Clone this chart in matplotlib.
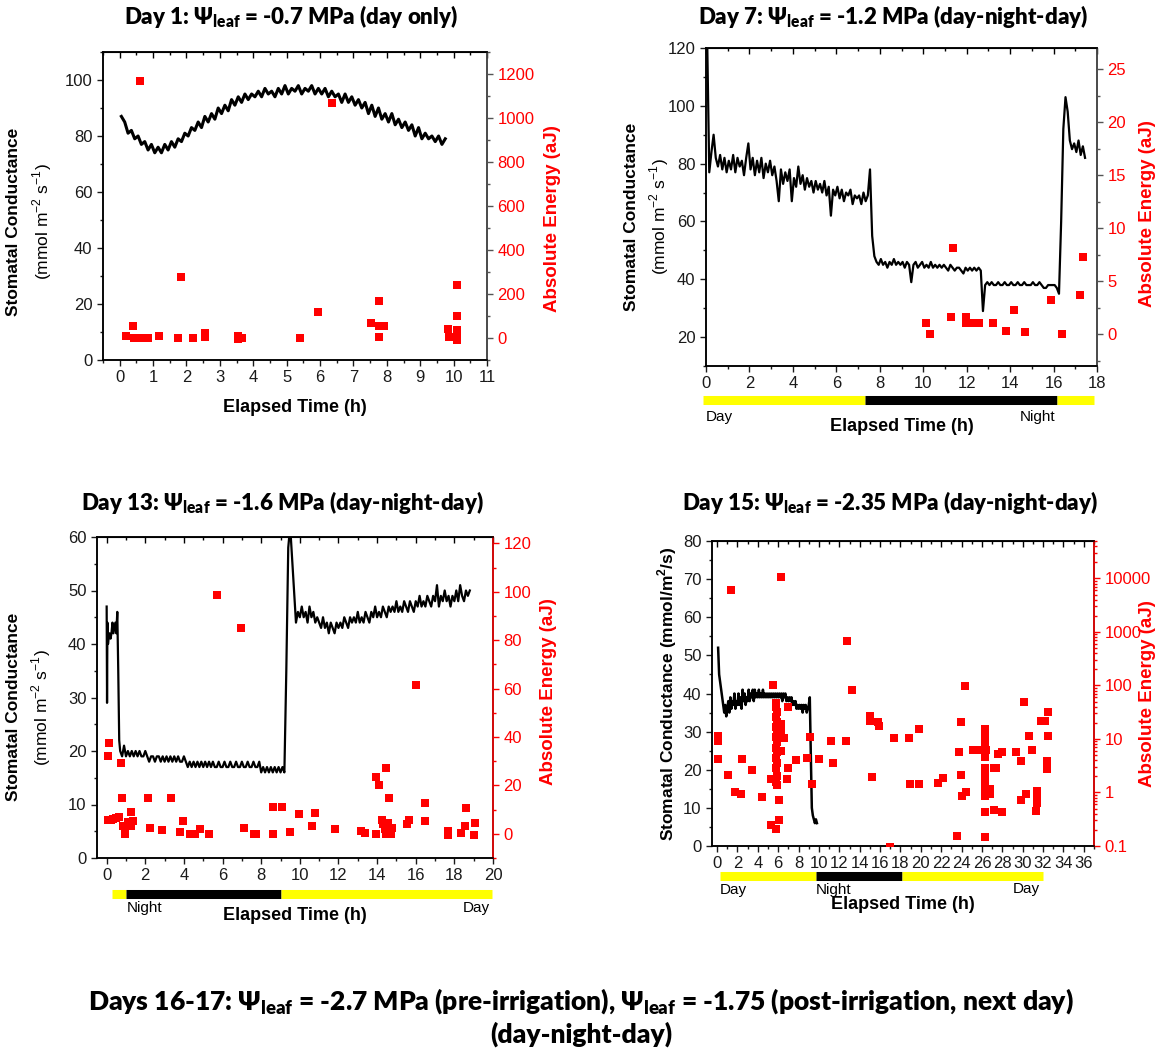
import numpy as np
import matplotlib
matplotlib.use('Agg')
import matplotlib.pyplot as plt
from matplotlib.ticker import MultipleLocator, LogLocator, NullFormatter

plt.rcParams['font.family'] = ['Liberation Sans', 'DejaVu Sans']
TITLE_FONT = ['Lato', 'DejaVu Sans']

# ---- Day 1 : stomatal conductance (one sample every 0.1 h from 0.05 h) ----
d1_gs = [87, 85, 81, 82, 79, 80, 77, 78, 75, 77,
         74, 76, 74, 77, 75, 78, 76, 79, 78, 81,
         80, 83, 82, 85, 83, 87, 85, 88, 86, 90,
         88, 91, 89, 93, 91, 94, 92, 95, 93, 95,
         94, 96, 94, 97, 95, 96, 94, 97, 95, 98,
         95, 97, 96, 98, 95, 97, 96, 98, 95, 97,
         95, 97, 94, 96, 94, 95, 92, 95, 92, 94,
         91, 93, 90, 92, 88, 91, 87, 90, 86, 88,
         85, 88, 84, 86, 83, 85, 82, 84, 80, 83,
         79, 81, 79, 80, 78, 80, 77, 79]
d1_span = (0.05, 9.75)
# acoustic emission events (time h, absolute energy aJ)
d1_ae = [(0.18, 9), (0.40, 55), (0.43, 0), (0.65, 0), (0.86, 0), (0.60, 1170),
         (1.18, 10), (1.76, 0), (1.84, 278), (2.21, 0), (2.54, 24), (2.55, 5),
         (3.53, 10), (3.53, -3), (3.65, 0), (5.40, 2), (5.95, 120), (6.35, 1070),
         (7.52, 70), (7.78, 170), (7.76, 55), (7.91, 55), (7.78, 5), (9.84, 40),
         (9.85, 5), (10.11, 240), (10.11, 102), (10.11, 37), (10.11, 15),
         (10.11, 0), (10.11, -8)]

# ---- Day 7 (one sample every 0.1 h from 0.05 h) ----
d7_gs = [125, 77, 84, 90, 82, 79, 83, 78, 82, 77,
         81, 78, 83, 77, 82, 79, 81, 76, 82, 87,
         78, 82, 76, 81, 77, 82, 75, 80, 77, 81,
         76, 79, 74, 67, 78, 73, 77, 74, 78, 67,
         75, 72, 79, 73, 76, 71, 75, 72, 74, 70,
         74, 71, 73, 70, 74, 69, 72, 62, 71, 69,
         72, 68, 71, 67, 70, 69, 71, 66, 69, 68,
         69, 66, 70, 67, 69, 78, 55, 48, 46, 45,
         47, 45, 46, 44, 46, 45, 47, 45, 46, 45,
         46, 44, 46, 45, 39, 45, 46, 44, 45, 46,
         44, 45, 44, 46, 44, 45, 44, 45, 44, 45,
         44, 43, 45, 44, 43, 44, 44, 43, 42, 44,
         43, 44, 43, 44, 43, 44, 43, 29, 38, 39,
         38, 39, 38, 38, 39, 38, 38, 39, 38, 38,
         39, 38, 38, 39, 38, 38, 39, 38, 38, 38,
         39, 38, 38, 39, 38, 37, 37, 38, 38, 38,
         38, 37, 35, 60, 92, 103, 98, 88, 85, 87,
         84, 88, 83, 86, 82]
d7_span = (0.05, 17.45)
d7_ae = [(10.14, 1.1), (10.30, 0.0), (11.36, 8.1), (11.29, 1.6), (11.95, 1.6),
         (11.95, 1.1), (12.20, 1.1), (12.56, 1.1), (13.22, 1.1), (13.81, 0.3),
         (14.17, 2.3), (14.67, 0.2), (15.90, 3.2), (16.40, 0.0), (17.24, 3.7),
         (17.34, 7.3)]
d7_light = [(-0.15, 7.3, 'day'), (7.3, 16.15, 'night'), (16.15, 17.85, 'day')]

# ---- Day 13 ----
d13_head_t = [0.0, 0.02, 0.04, 0.07, 0.1, 0.15, 0.2, 0.25, 0.3, 0.35, 0.4,
              0.45, 0.5, 0.55, 0.6, 0.65]
d13_head = [47, 29, 44, 40, 41, 42, 41, 42, 44, 42, 43, 44, 42, 46, 35, 22]
# then every 0.1 h from 0.7 h
d13_gs = [20, 19, 21, 19, 20, 19, 20, 19, 20, 19,
          20, 19, 19, 20, 19, 18, 19, 19, 18, 19,
          19, 18, 19, 18, 19, 18, 19, 18, 19, 18,
          19, 18, 18, 19, 18, 17, 18, 17, 18, 17,
          18, 17, 18, 17, 18, 17, 18, 17, 18, 17,
          17, 18, 17, 17, 18, 17, 17, 18, 17, 17,
          18, 17, 17, 18, 17, 17, 18, 17, 17, 18,
          17, 17, 18, 16, 17, 16, 17, 16, 17, 16,
          17, 16, 17, 16, 17, 16, 35, 58, 62, 56,
          50, 44, 46, 45, 47, 45, 46, 44, 47, 45,
          46, 44, 45, 44, 43, 45, 43, 44, 42, 44,
          43, 42, 44, 43, 44, 43, 45, 44, 43, 45,
          44, 45, 44, 46, 44, 45, 44, 46, 45, 44,
          46, 45, 47, 45, 46, 45, 47, 46, 45, 47,
          46, 47, 46, 48, 46, 47, 46, 48, 47, 46,
          48, 47, 46, 48, 47, 49, 47, 48, 47, 49,
          48, 47, 49, 48, 51, 47, 49, 48, 50, 48,
          49, 47, 49, 48, 50, 48, 51, 49, 48, 50,
          49, 50]
d13_span = (0.7, 18.8)
d13_ae = [(0.06, 32.1), (0.11, 37.7), (0.06, 5.5), (0.20, 5.9), (0.34, 6.3),
          (0.50, 6.6), (0.63, 6.9), (0.73, 29.1), (0.80, 14.9), (0.86, 3.4),
          (0.94, 0.1), (1.10, 4.8), (1.24, 9.2), (1.24, 3.4), (1.34, 5.2),
          (2.12, 14.9), (2.25, 2.5), (2.86, 1.5), (3.34, 14.9), (3.82, 0.7),
          (3.93, 5.2), (4.29, 0.1), (4.58, -0.1), (4.83, 1.8), (5.30, 0.1),
          (5.69, 98.5), (6.97, 85.1), (7.12, 2.5), (7.65, -0.1), (7.75, -0.1),
          (8.59, 0.1), (8.59, 11.2), (9.08, 11.2), (9.50, 0.7), (9.98, 8.0),
          (10.61, 3.4), (10.80, 8.7), (11.83, 1.8), (13.19, 1.1), (13.38, 0.4),
          (13.95, 23.4), (13.95, -0.1), (14.12, 20.3), (14.27, 5.5), (14.33, 3.9),
          (14.40, 1.8), (14.47, 27.3), (14.47, 0.1), (14.56, 4.3), (14.60, 14.6),
          (14.71, 0.1), (14.75, 2.5), (15.55, 3.9), (15.67, 5.5), (16.01, 61.5),
          (16.49, 12.6), (16.49, 5.1), (17.67, 1.1), (17.67, -0.3), (18.34, 0.4),
          (18.57, 3.4), (18.59, 10.6), (19.00, -0.3), (19.06, 4.4)]
d13_light = [(0.3, 1.0, 'day'), (1.0, 9.02, 'night'), (9.02, 19.96, 'day')]

# ---- Day 15 (one sample every 0.1 h from 0.1 h) ----
d15_gs = [52, 45, 43, 41, 39, 37, 35, 37, 34, 36,
          38, 35, 39, 36, 38, 37, 40, 36, 38, 37,
          40, 37, 39, 36, 41, 38, 40, 37, 39, 38,
          41, 38, 40, 39, 41, 38, 41, 39, 40, 39,
          41, 39, 40, 39, 41, 39, 40, 39, 40, 39,
          40, 39, 40, 39, 40, 39, 40, 39, 40, 39,
          40, 39, 40, 38, 40, 39, 40, 38, 39, 38,
          39, 38, 39, 37, 38, 37, 38, 36, 37, 36,
          37, 36, 37, 35, 37, 36, 37, 35, 36, 37,
          39, 24, 10, 8, 7, 6, 7, 6]
d15_span = (0.1, 9.8)
d15_ae = [(0.07, 9.3), (0.07, 11.2), (0.07, 4.2), (1.07, 2.1), (1.35, 6200),
          (1.78, 1.03), (2.35, 0.95), (2.42, 4.2), (3.45, 2.6), (4.45, 0.83),
          (5.30, 0.25), (5.34, 1.78), (5.52, 103), (5.77, 0.21),
          (5.80, 48), (5.75, 39), (5.85, 32), (5.80, 25.6), (5.90, 20.5),
          (5.75, 16.6), (5.85, 13.3), (5.80, 10.7), (5.90, 8.6), (5.75, 6.9),
          (5.85, 5.6), (5.80, 4.5), (5.90, 3.6), (5.75, 2.9), (5.85, 2.05),
          (5.80, 1.6), (5.90, 1.4), (6.05, 0.73), (6.05, 0.3), (6.23, 10800),
          (6.23, 19.3), (6.23, 13.3), (6.23, 6.0), (6.55, 10.4), (6.83, 1.8),
          (6.94, 39), (6.94, 2.9), (7.79, 4.0), (8.86, 4.4), (9.15, 10.7),
          (9.32, 1.47), (10.04, 4.3), (11.20, 9.0), (11.35, 3.6), (12.63, 9.0),
          (12.74, 668), (13.27, 83), (15.05, 27.4), (15.05, 21.9), (15.23, 1.97),
          (15.84, 20.5), (15.94, 17.4), (16.98, 0.095), (17.37, 10.4),
          (18.83, 10.4), (18.93, 1.47), (19.79, 1.47), (19.83, 15.4),
          (21.68, 1.5), (22.18, 1.86), (23.56, 0.154), (23.70, 5.8),
          (23.95, 2.15), (23.99, 21), (24.00, 0.87), (24.34, 98), (24.45, 1.0),
          (25.10, 6.3), (25.60, 6.3), (26.00, 6.3), (26.40, 6.3),
          (26.30, 15.4), (26.30, 13.3), (26.30, 11.2), (26.30, 9.3), (26.30, 6.9),
          (26.30, 4.7), (26.30, 2.9), (26.30, 2.4), (26.30, 1.9), (26.30, 1.4),
          (26.30, 1.0), (26.30, 0.87), (26.30, 0.43), (26.30, 0.148),
          (26.75, 1.15), (26.75, 0.95), (27.20, 2.85), (27.20, 0.47), (27.40, 2.9),
          (27.60, 5.2), (28.00, 5.8), (28.00, 0.44), (29.36, 5.8), (29.79, 3.9),
          (29.86, 0.73), (30.14, 50), (30.32, 0.93), (30.64, 11.6), (30.93, 6.2),
          (31.39, 1.07), (31.39, 0.92), (31.39, 0.79), (31.39, 0.63), (31.32, 0.45),
          (31.75, 21.3), (32.20, 21.3), (32.46, 31.6), (32.46, 11.6),
          (32.35, 3.8), (32.35, 3.3), (32.35, 2.7)]
d15_light = [(0.32, 9.68, 'day'), (9.68, 18.15, 'night'), (18.15, 32.0, 'day')]

LIGHT_COLORS = {'day': '#ffff00', 'night': 'black'}
W, H = 1163, 1055
TICK_FS = 12
LABEL_FS = 12.5
fig = plt.figure(figsize=(W / 100, H / 100), dpi=100)


def box(l, r, t, b):
    return [l / W, 1 - b / H, (r - l) / W, (b - t) / H]


def make_panel(rect, xlim, xstep, ylim, ystep, y2lim, right_col):
    ax = fig.add_axes(rect)
    ax.set_xlim(*xlim)
    ax.set_ylim(*ylim)
    ax.xaxis.set_major_locator(MultipleLocator(xstep))
    ax.xaxis.set_minor_locator(MultipleLocator(xstep / 2))
    ax.yaxis.set_major_locator(MultipleLocator(ystep))
    ax.yaxis.set_minor_locator(MultipleLocator(ystep / 2))
    ax.tick_params(which='both', direction='out', labelsize=TICK_FS, width=1,
                   colors='#1a1a1a', pad=3)
    ax.tick_params(which='major', length=4.5)
    ax.tick_params(which='minor', length=2.5)
    top = ax.secondary_xaxis('top')
    top.xaxis.set_major_locator(MultipleLocator(xstep))
    top.xaxis.set_minor_locator(MultipleLocator(xstep / 2))
    top.tick_params(which='both', direction='in', labeltop=False, width=1)
    top.tick_params(which='major', length=4.5)
    top.tick_params(which='minor', length=2.5)
    ax2 = ax.twinx()
    ax2.set_ylim(*y2lim)
    ax2.tick_params(which='both', direction='out', labelsize=TICK_FS, width=1,
                    colors=right_col, labelcolor='red', pad=3)
    ax2.tick_params(which='major', length=4.5)
    ax2.tick_params(which='minor', length=2.5)
    for a in (ax, ax2):
        for s in a.spines.values():
            s.set_linewidth(1.1)
    ax2.spines['right'].set_color(right_col)
    return ax, ax2


def conductance_label(ax, x1, x2, y, units):
    ax.text(x1, y, 'Stomatal Conductance', transform=ax.transAxes,
            rotation=90, ha='center', va='center', fontsize=LABEL_FS,
            fontweight='bold')
    ax.text(x2, y, units, transform=ax.transAxes, rotation=90,
            ha='center', va='center', fontsize=LABEL_FS)


def energy_label(ax, x, y):
    ax.text(x, y, 'Absolute Energy (aJ)', transform=ax.transAxes,
            rotation=90, ha='center', va='center', fontsize=13.5,
            fontweight='bold', color='red')


def time_label(ax, y):
    ax.text(0.5, y, 'Elapsed Time (h)', transform=ax.transAxes,
            ha='center', va='center', fontsize=13, fontweight='bold')


def light_bar(ax, periods, y):
    tr = ax.get_xaxis_transform()
    for x0, x1, kind in periods:
        ax.plot([x0, x1], [y, y], transform=tr, color=LIGHT_COLORS[kind],
                lw=6.5, solid_capstyle='butt', clip_on=False)


def light_text(ax, x, y, s, ha):
    ax.text(x, y, s, transform=ax.get_xaxis_transform(), ha=ha,
            va='center', fontsize=11)


def events(ax2, pts):
    t = [p[0] for p in pts]
    e = [p[1] for p in pts]
    ax2.scatter(t, e, marker='s', s=34, color='red', linewidths=0, zorder=3)


units_sup = '(mmol m$^{\\mathregular{-2}}$ s$^{\\mathregular{-1}}$)'

# Day 1
ax, ax2 = make_panel(box(103, 487, 52, 360), (-0.5, 11), 1, (0, 110), 20,
                     (-100, 1300), '#555555')
ax2.yaxis.set_major_locator(MultipleLocator(200))
ax2.yaxis.set_minor_locator(MultipleLocator(100))
ax.plot(np.linspace(*d1_span, len(d1_gs)), d1_gs, color='black', lw=2.2)
events(ax2, d1_ae)
conductance_label(ax, -0.232, -0.158, 0.45, units_sup)
energy_label(ax, 1.17, 0.46)
time_label(ax, -0.155)

# Day 7
ax, ax2 = make_panel(box(706, 1097, 48, 366), (0, 18), 2, (10, 120), 20,
                     (-3, 27), '#555555')
ax2.yaxis.set_major_locator(MultipleLocator(5))
ax2.yaxis.set_minor_locator(MultipleLocator(2.5))
ax.plot(np.linspace(*d7_span, len(d7_gs)), d7_gs, color='black', lw=1.6)
events(ax2, d7_ae)
conductance_label(ax, -0.19, -0.12, 0.47, units_sup)
energy_label(ax, 1.13, 0.48)
light_bar(ax, d7_light, -0.107)
light_text(ax, 0.0, -0.16, 'Day', 'left')
light_text(ax, 16.1, -0.16, 'Night', 'right')
time_label(ax, -0.19)

# Day 13
ax, ax2 = make_panel(box(97, 493, 537, 858), (-0.5, 20), 2, (0, 60), 10,
                     (-10, 122.6), 'red')
ax2.yaxis.set_major_locator(MultipleLocator(20))
ax2.yaxis.set_minor_locator(MultipleLocator(10))
ax.plot(list(d13_head_t) + list(np.linspace(*d13_span, len(d13_gs))),
        d13_head + d13_gs, color='black', lw=1.6)
events(ax2, d13_ae)
conductance_label(ax, -0.21, -0.142, 0.47, units_sup)
energy_label(ax, 1.14, 0.52)
light_bar(ax, d13_light, -0.112)
light_text(ax, 1.05, -0.157, 'Night', 'left')
light_text(ax, 19.86, -0.157, 'Day', 'right')
time_label(ax, -0.18)

# Day 15
ax, ax2 = make_panel(box(712, 1094, 541, 846), (-0.5, 37), 2, (0, 80), 10,
                     (0.1, 5e4), 'red')
ax2.set_yscale('log')
ax2.set_ylim(0.1, 5e4)
ax2.set_yticks([0.1, 1, 10, 100, 1000, 10000],
               labels=['0.1', '1', '10', '100', '1000', '10000'])
ax2.yaxis.set_minor_locator(LogLocator(base=10, subs=np.arange(2, 10)))
ax2.yaxis.set_minor_formatter(NullFormatter())
ax.plot(np.linspace(*d15_span, len(d15_gs)), d15_gs, color='black', lw=1.8)
events(ax2, d15_ae)
ax.text(-0.118, 0.5, 'Stomatal Conductance (mmol/m$^{\\mathregular{2}}$/s)',
        transform=ax.transAxes, rotation=90, ha='center', va='center',
        fontsize=LABEL_FS, fontweight='bold')
energy_label(ax, 1.14, 0.5)
light_bar(ax, d15_light, -0.098)
light_text(ax, 0.29, -0.145, 'Day', 'left')
light_text(ax, 9.7, -0.145, 'Night', 'left')
light_text(ax, 31.7, -0.14, 'Day', 'right')
time_label(ax, -0.193)

# titles
leaf = 'Ψ$_{\\mathregular{leaf}}$'
titles = [(291, 17, 16, f'Day 1: {leaf} = -0.7 MPa (day only)'),
          (893, 17, 16, f'Day 7: {leaf} = -1.2 MPa (day-night-day)'),
          (283, 503, 16, f'Day 13: {leaf} = -1.6 MPa (day-night-day)'),
          (890, 503, 16, f'Day 15: {leaf} = -2.35 MPa (day-night-day)'),
          (581, 1001, 19, f'Days 16-17: {leaf} = -2.7 MPa (pre-irrigation), '
                          f'{leaf} = -1.75 (post-irrigation, next day)'),
          (581, 1034, 19, '(day-night-day)')]
for x, y, fs, s in titles:
    fig.text(x / W, 1 - y / H, s, ha='center', va='center', fontsize=fs,
             fontweight='heavy', family=TITLE_FONT)

fig.savefig('out.png', dpi=100)
